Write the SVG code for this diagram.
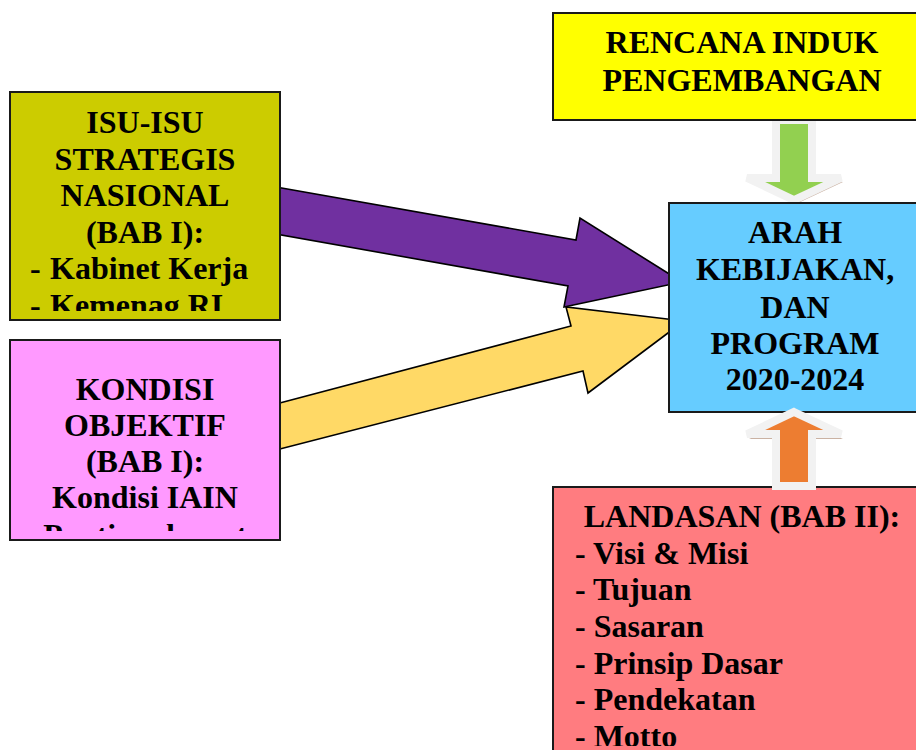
<svg xmlns="http://www.w3.org/2000/svg" width="916" height="750" viewBox="0 0 916 750">
<style>
.box{stroke:#1a1a1a;stroke-width:2}
.t{font-family:"Liberation Serif","Times New Roman",serif;font-weight:bold;font-size:32px;fill:#000}
.c{text-anchor:middle}
.blk{stroke:#000;stroke-width:1.6;stroke-linejoin:miter}
.fat{stroke:#F2F2F2;stroke-width:8;stroke-linejoin:miter}
.sh{fill:#7a3e1a;opacity:0.4}
</style>
<defs>
<clipPath id="c1"><rect x="10" y="92" width="270" height="219"/></clipPath>
<clipPath id="c2"><rect x="10" y="340" width="270" height="191"/></clipPath>
<clipPath id="c5"><rect x="553" y="487" width="363" height="259"/></clipPath>
</defs>
<rect width="916" height="750" fill="#fff"/>
<g id="connectors">
<polygon class="blk" fill="#FFD966" points="276,404 571,326 566,307 684,321 588,393 583,371 276,450"/>
<polygon class="blk" fill="#7030A0" points="276,187 576,240 580,218 682,282 564,307 568,286 276,234"/>
<polygon class="sh" transform="translate(2,4)" points="776,120 812,120 812,178 841,178 794,200 747,178 776,178"/>
<polygon class="fat" fill="#92D050" points="776,120 812,120 812,178 841,178 794,200 747,178 776,178"/>
<polygon class="sh" transform="translate(2,5)" points="794,412 841,434 812,434 812,486 776,486 776,434 747,434"/>
</g>
<g id="n-isu">
<rect class="box" x="10" y="92" width="270" height="228" fill="#CCCC00"/>
<g clip-path="url(#c1)">
<text class="t c" x="145" y="133">ISU-ISU</text>
<text class="t c" x="145" y="170">STRATEGIS</text>
<text class="t c" x="145" y="206">NASIONAL</text>
<text class="t c" x="145" y="243">(BAB I):</text>
<text class="t" x="30" y="279">-</text>
<text class="t" x="50" y="279">Kabinet Kerja</text>
<text class="t" x="30" y="316">-</text>
<text class="t" x="50" y="316">Kemenag RI</text>
</g>
</g>
<g id="n-kondisi">
<rect class="box" x="10" y="340" width="270" height="200" fill="#FF99FF"/>
<g clip-path="url(#c2)">
<text class="t c" x="145" y="400">KONDISI</text>
<text class="t c" x="145" y="436">OBJEKTIF</text>
<text class="t c" x="145" y="472">(BAB I):</text>
<text class="t c" x="145" y="508">Kondisi IAIN</text>
<text class="t c" x="145" y="546">Pontianak saat</text>
</g>
</g>
<g id="n-rencana">
<rect class="box" x="553" y="13" width="380" height="107" fill="#FFFF00"/>
<text class="t c" x="742" y="53">RENCANA INDUK</text>
<text class="t c" x="742" y="91">PENGEMBANGAN</text>
</g>
<g id="n-arah">
<rect class="box" x="669" y="203" width="262" height="209" fill="#66CCFF"/>
<text class="t c" x="795" y="243">ARAH</text>
<text class="t c" x="795" y="280">KEBIJAKAN,</text>
<text class="t c" x="795" y="318">DAN</text>
<text class="t c" x="795" y="354">PROGRAM</text>
<text class="t c" x="795" y="390">2020-2024</text>
</g>
<g id="n-landasan">
<rect class="box" x="553" y="487" width="380" height="280" fill="#FF7C80"/>
<g clip-path="url(#c5)">
<text class="t c" x="742" y="527">LANDASAN (BAB II):</text>
<text class="t" x="575" y="564">- Visi &amp; Misi</text>
<text class="t" x="575" y="600">- Tujuan</text>
<text class="t" x="575" y="637">- Sasaran</text>
<text class="t" x="575" y="674">- Prinsip Dasar</text>
<text class="t" x="575" y="710">- Pendekatan</text>
<text class="t" x="575" y="747">- Motto</text>
</g>
</g>
<g id="up-arrow">
<polygon class="fat" fill="#ED7D31" points="794,412 841,434 812,434 812,486 776,486 776,434 747,434"/>
</g>
</svg>
